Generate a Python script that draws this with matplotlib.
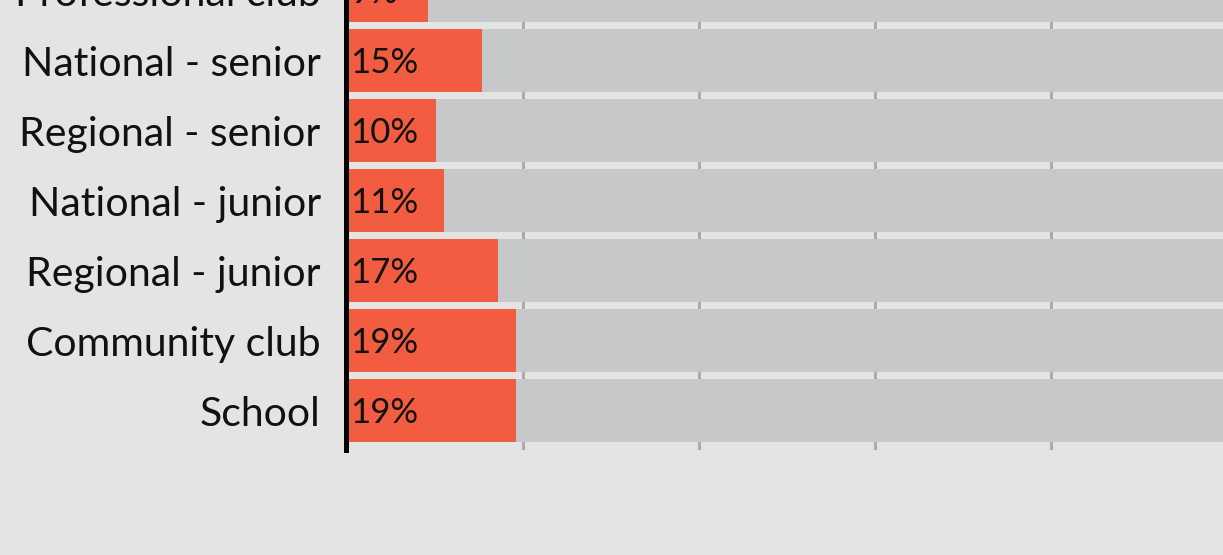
import matplotlib
matplotlib.use("Agg")
import matplotlib.pyplot as plt

# Data (bottom row first)
categories = ["School", "Community club", "Regional - junior", "National - junior",
              "Regional - senior", "National - senior", "Professional club"]
values = [19.2, 19.2, 17.2, 11.0, 10.1, 15.3, 9.2]
ticks = [0, 20, 40, 60, 80, 100]

bg = "#e4e4e4"
orange = "#f25c41"
grey = "#c7c8ca"

plt.rcParams["font.family"] = ["Lato", "DejaVu Sans"]

W, H = 1223, 555
fig = plt.figure(figsize=(W / 100, H / 100), dpi=100, facecolor=bg)

# axes placed in pixels: x=0 at 347px, 880px per 100%, 70px per row
row_px = 70
y_lo, y_hi = -0.564, 6.8
left, width = 347, 880
bottom = H - 450
height = (y_hi - y_lo) * row_px
ax = fig.add_axes([left / W, bottom / H, width / W, height / H])
ax.set_facecolor(bg)
ax.set_xlim(0, 100)
ax.set_ylim(y_lo, y_hi)

pos = list(range(len(categories)))
ax.barh(pos, [100] * len(pos), height=0.9, color=grey, zorder=2)
ax.barh(pos, values, height=0.9, color=orange, zorder=3)

for y, v in zip(pos, values):
    ax.text(0.3, y - 0.03, f"{round(v)}%", va="center", ha="left", fontsize=25,
            color="#111111", zorder=4)

for t in ticks[1:]:
    ax.axvline(t, color="#acacac", lw=2.2, zorder=1)

ax.set_yticks(pos)
ax.set_yticklabels(categories)
ax.tick_params(axis="y", length=0, pad=18, labelsize=29.5, labelcolor="#111111")
ax.set_xticks([])

for s in ["top", "right", "bottom"]:
    ax.spines[s].set_visible(False)
ax.spines["left"].set_linewidth(3.6)
ax.spines["left"].set_color("black")
ax.spines["left"].set_position(("data", -0.15))
ax.spines["left"].set_zorder(5)

fig.savefig("out.png", dpi=100, facecolor=bg)
